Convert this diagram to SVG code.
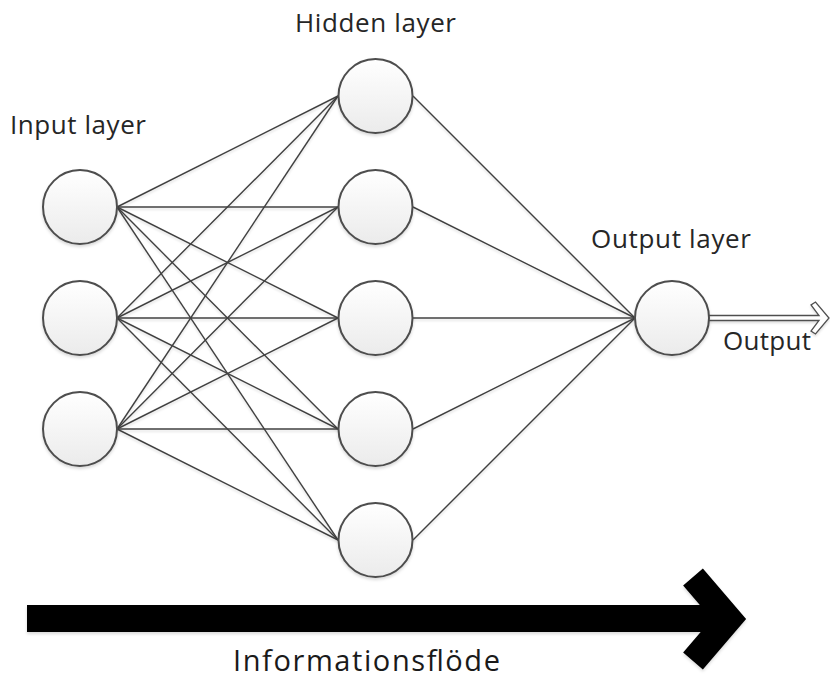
<svg xmlns="http://www.w3.org/2000/svg" width="830" height="679" viewBox="0 0 830 679">
  <style>
    .node circle { fill: url(#nodeFill); stroke: #4d4d4d; stroke-width: 2; filter: url(#soft); }
    .link { stroke: #404040; stroke-width: 1.4; fill: none; }
    .label { font-family: "Open Sans", "Noto Sans", sans-serif; font-size: 26px; fill: #262626; }
    .flow-label { font-family: "Open Sans", "Noto Sans", sans-serif; font-size: 29px; fill: #1a1a1a; }
  </style>
  <defs>
    <linearGradient id="nodeFill" x1="0" y1="0" x2="0" y2="1">
      <stop offset="0" stop-color="#ffffff"/>
      <stop offset="1" stop-color="#ebebeb"/>
    </linearGradient>
    <filter id="soft" x="-20%" y="-20%" width="140%" height="150%">
      <feDropShadow dx="0" dy="2" stdDeviation="1.5" flood-color="#000" flood-opacity="0.15"/>
    </filter>
    <filter id="lineShadow" x="-5%" y="-5%" width="110%" height="110%">
      <feDropShadow dx="0" dy="2" stdDeviation="0.8" flood-color="#000" flood-opacity="0.12"/>
    </filter>
  </defs>
  <rect width="830" height="679" fill="#ffffff"/>

  <!-- connectors -->
  <g id="connectors" class="link" filter="url(#lineShadow)">
    <!-- input -> hidden -->
    <line x1="117" y1="207" x2="338" y2="96"/>
    <line x1="117" y1="207" x2="338" y2="207"/>
    <line x1="117" y1="207" x2="338" y2="318"/>
    <line x1="117" y1="207" x2="338" y2="429"/>
    <line x1="117" y1="207" x2="338" y2="540"/>
    <line x1="117" y1="318" x2="338" y2="96"/>
    <line x1="117" y1="318" x2="338" y2="207"/>
    <line x1="117" y1="318" x2="338" y2="318"/>
    <line x1="117" y1="318" x2="338" y2="429"/>
    <line x1="117" y1="318" x2="338" y2="540"/>
    <line x1="117" y1="429" x2="338" y2="96"/>
    <line x1="117" y1="429" x2="338" y2="207"/>
    <line x1="117" y1="429" x2="338" y2="318"/>
    <line x1="117" y1="429" x2="338" y2="429"/>
    <line x1="117" y1="429" x2="338" y2="540"/>
    <!-- hidden -> output -->
    <line x1="413" y1="96" x2="635" y2="318"/>
    <line x1="413" y1="207" x2="635" y2="318"/>
    <line x1="413" y1="318" x2="635" y2="318"/>
    <line x1="413" y1="429" x2="635" y2="318"/>
    <line x1="413" y1="540" x2="635" y2="318"/>
    <!-- output arrow (hollow double line) -->
    <path d="M700,315.5 H819 L811,305 L815.5,302 L829,318 L815.5,334 L811,331 L819,320.5 H700 Z" fill="#ffffff" stroke="#505050" stroke-width="1.3" stroke-linejoin="miter"/>
  </g>

  <!-- input layer -->
  <g id="input-1" class="node"><circle cx="80" cy="207" r="37"/></g>
  <g id="input-2" class="node"><circle cx="80" cy="318" r="37"/></g>
  <g id="input-3" class="node"><circle cx="80" cy="429" r="37"/></g>

  <!-- hidden layer -->
  <g id="hidden-1" class="node"><circle cx="375.5" cy="96" r="37"/></g>
  <g id="hidden-2" class="node"><circle cx="375.5" cy="207" r="37"/></g>
  <g id="hidden-3" class="node"><circle cx="375.5" cy="318" r="37"/></g>
  <g id="hidden-4" class="node"><circle cx="375.5" cy="429" r="37"/></g>
  <g id="hidden-5" class="node"><circle cx="375.5" cy="540" r="37"/></g>

  <!-- output layer -->
  <g id="output-node" class="node"><circle cx="672" cy="318" r="37"/></g>

  <!-- labels -->
  <text class="label" x="10" y="134" textLength="136" lengthAdjust="spacing">Input layer</text>
  <text class="label" x="295" y="32" textLength="161" lengthAdjust="spacing">Hidden layer</text>
  <text class="label" x="591" y="248" textLength="160" lengthAdjust="spacing">Output layer</text>
  <text class="label" x="723" y="350" textLength="88" lengthAdjust="spacing">Output</text>

  <!-- information flow arrow -->
  <g id="flow-arrow" filter="url(#soft)">
    <rect x="27" y="605" width="704" height="27" fill="#000"/>
    <polyline points="693,577 729,619 693,661" fill="none" stroke="#000" stroke-width="26" stroke-linejoin="miter" stroke-linecap="butt" stroke-miterlimit="10"/>
  </g>
  <text class="flow-label" x="233" y="671" textLength="267" lengthAdjust="spacing">Informationsflöde</text>
</svg>
